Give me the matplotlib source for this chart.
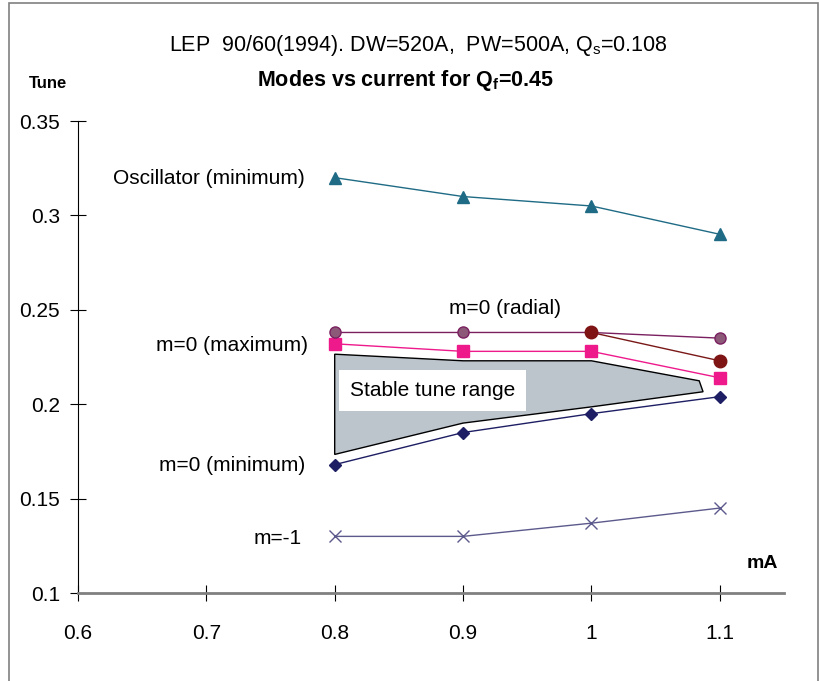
import matplotlib
matplotlib.use('Agg')
import matplotlib.pyplot as plt
from matplotlib.patches import Rectangle

plt.rcParams['font.family'] = ['Liberation Sans', 'DejaVu Sans']

# current (mA)
current = [0.8, 0.9, 1.0, 1.1]

osc_min = [0.320, 0.310, 0.305, 0.290]
m0_radial = [0.238, 0.238, 0.238, 0.235]
m0_radial2_x = [1.0, 1.1]
m0_radial2 = [0.238, 0.223]
m0_max = [0.232, 0.228, 0.228, 0.214]
m0_min = [0.168, 0.185, 0.195, 0.204]
m_minus1 = [0.130, 0.130, 0.137, 0.145]

# stable tune range outline
stable_x = [0.8, 0.9, 1.0, 1.084, 1.087, 1.0, 0.9, 0.8]
stable_y = [0.2265, 0.223, 0.223, 0.2124, 0.2066, 0.1986, 0.190, 0.1734]

fig = plt.figure(figsize=(8.2, 6.81), dpi=100)
ax = fig.add_axes([0.0951, 0.1292, 0.8609, 0.6931])

ax.fill(stable_x, stable_y, facecolor='#bcc4cc', edgecolor='black', linewidth=1, zorder=1)

ax.plot(current, osc_min, color='#1f6b85', lw=1, marker='^', ms=8, zorder=3)
ax.plot(current, m_minus1, color='#5c5a8c', lw=1, marker='x', ms=8, mew=1, zorder=3)
ax.plot(current, m0_min, color='#1e1e64', lw=1, marker='D', ms=6, zorder=3)
ax.plot(current, m0_max, color='#ee1a8c', lw=1, marker='s', ms=8, zorder=3)
ax.plot(current, m0_radial, color='#7a2060', lw=1, marker='o', ms=8,
        mfc='#8c5a78', mec='#7a2060', zorder=3)
ax.plot(m0_radial2_x, m0_radial2, color='#7a1818', lw=1, marker='o', ms=9,
        mfc='#7e1414', mec='#7e1414', zorder=4)

ax.set_xlim(0.6, 1.15)
ax.set_ylim(0.1, 0.35)
ax.set_xticks([0.6, 0.7, 0.8, 0.9, 1.0, 1.1])
ax.set_xticklabels(['0.6', '0.7', '0.8', '0.9', '1', '1.1'])
ax.set_yticks([0.1, 0.15, 0.2, 0.25, 0.3, 0.35])
ax.set_yticklabels(['0.1', '0.15', '0.2', '0.25', '0.3', '0.35'])

for s in ['top', 'right']:
    ax.spines[s].set_visible(False)
ax.spines['left'].set_linewidth(0.8)
ax.spines['bottom'].set_color('#808080')
ax.spines['bottom'].set_linewidth(2)
ax.tick_params(direction='inout', length=12, width=0.8, labelsize=15)
ax.tick_params(axis='y', pad=7)
ax.tick_params(axis='x', pad=16)

fs = 15
ax.text(0.8 - 0.023, 0.3195, 'Oscillator (minimum)', ha='right', va='center', fontsize=fs)
ax.text(0.933, 0.2505, 'm=0 (radial)', ha='center', va='center', fontsize=fs)
ax.text(0.8 - 0.021, 0.231, 'm=0 (maximum)', ha='right', va='center', fontsize=fs)
ax.text(0.8 - 0.023, 0.1675, 'm=0 (minimum)', ha='right', va='center', fontsize=fs)
ax.text(0.8 - 0.026, 0.1288, 'm=-1', ha='right', va='center', fontsize=fs)
ax.text(0.812, 0.2075, 'Stable tune range', ha='left', va='center', fontsize=fs,
        bbox=dict(facecolor='white', edgecolor='none', pad=8), zorder=5)
ax.text(1.133, 0.1155, 'mA', ha='center', va='center', fontsize=14, fontweight='bold')

fig.text(0.51, 0.933, 'LEP  90/60(1994). DW=520A,  PW=500A, Q$_\\mathregular{s}$=0.108',
         ha='center', va='center', fontsize=15.5)
fig.text(0.494, 0.882, 'Modes vs current for Q$_\\mathregular{f}$=0.45', ha='center', va='center',
         fontsize=15.5, fontweight='bold')
fig.text(0.058, 0.877, 'Tune', ha='center', va='center', fontsize=12, fontweight='bold')

fig.patches.append(Rectangle((0.011, -0.01), 0.986, 1.006, transform=fig.transFigure,
                             fill=False, edgecolor='#808080', linewidth=1.2))

fig.savefig('out.png', dpi=100)
